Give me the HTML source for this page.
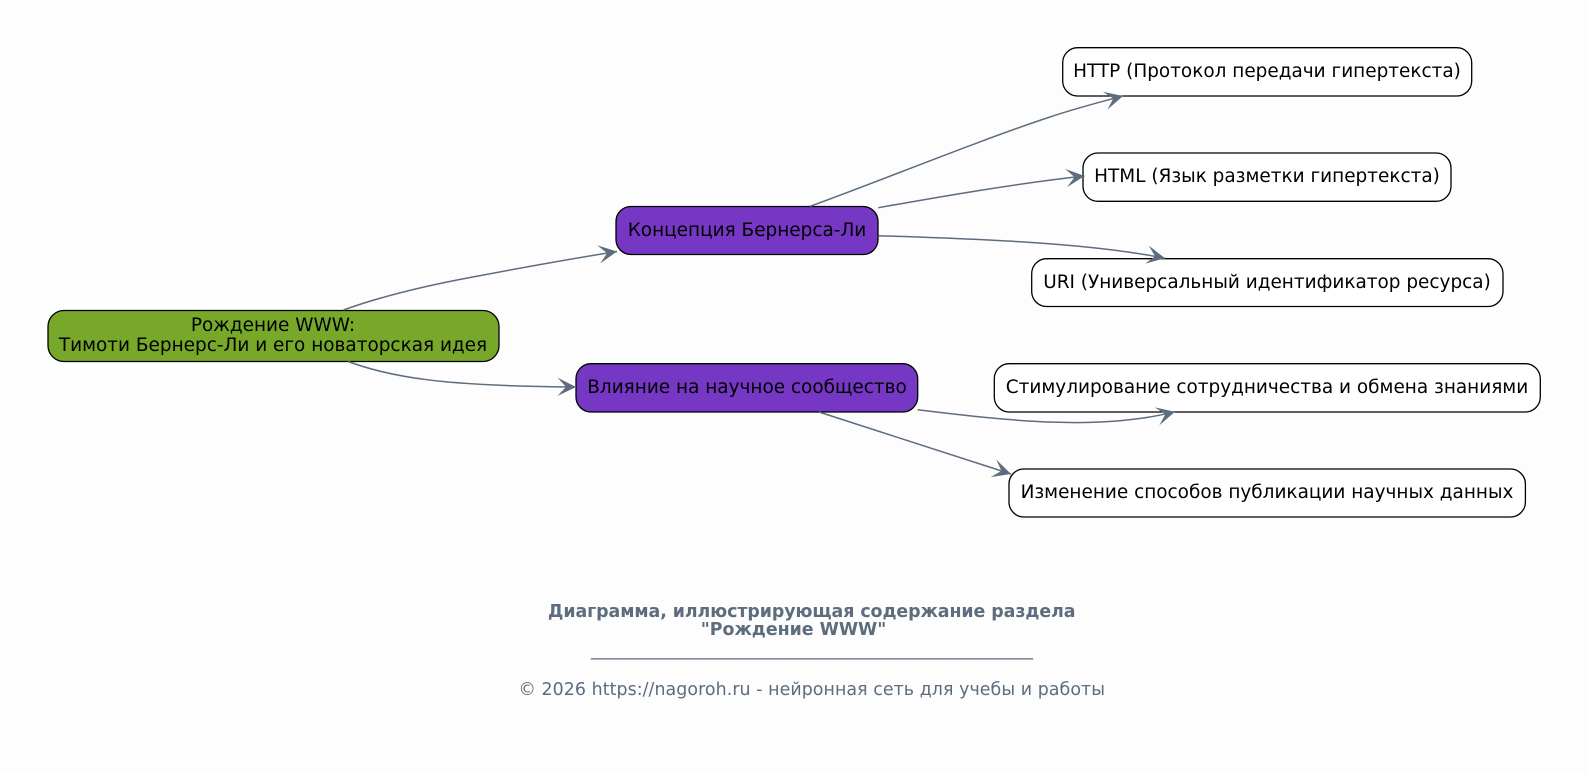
<!DOCTYPE html>
<html><head><meta charset="utf-8"><style>
html,body{margin:0;padding:0;background:#fdfdfd}
svg{display:block}
text{font-family:"DejaVu Sans",sans-serif;text-anchor:middle}
.n{font-size:18.45px;fill:#000}
.e{fill:none;stroke:#5d6d7e;stroke-width:1.5;marker-end:url(#a)}
.b{stroke:#000;stroke-width:1.3}
.f{fill:#5d6d7e}
</style></head><body>
<svg width="1588" height="773" viewBox="0 0 1588 773" xmlns="http://www.w3.org/2000/svg">
<defs><marker id="a" markerUnits="userSpaceOnUse" markerWidth="24" markerHeight="24" refX="20" refY="12" orient="auto" viewBox="0 0 24 24">
<path d="M20 12L1.500 2.800L10 12L1.500 21.200Z" fill="#5d6d7e"/></marker></defs>
<rect width="1588" height="773" fill="#fdfdfd"/>
<rect class="b" x="48" y="310.5" width="451" height="51" rx="16" fill="#77a829"/>
<rect class="b" x="616" y="206.5" width="262" height="48" rx="15" fill="#7637c4"/>
<rect class="b" x="576" y="363.7" width="341.7" height="48.3" rx="15" fill="#7637c4"/>
<rect class="b" x="1062.7" y="47.7" width="409" height="48.3" rx="15" fill="#fff"/>
<rect class="b" x="1083" y="153" width="368" height="48.3" rx="15" fill="#fff"/>
<rect class="b" x="1031.7" y="258.7" width="471.3" height="47.8" rx="15" fill="#fff"/>
<rect class="b" x="994.3" y="363.7" width="546" height="48.3" rx="15" fill="#fff"/>
<rect class="b" x="1009" y="469" width="516.4" height="48" rx="15" fill="#fff"/>
<path class="e" d="M343.5 310C385 295 430 285 470 277.500C520 268 570 259 617 251.500"/>
<path class="e" d="M348 361.500C393 378 445 386 576 387"/>
<path class="e" d="M810 206.300C880 181 980 140 1050 117C1075 108.500 1100 102 1123 96"/>
<path class="e" d="M878.300 207.700C950 195 1020 183 1084.500 176"/>
<path class="e" d="M878.300 235.700C980 239 1090 243 1165 258.300"/>
<path class="e" d="M917.700 409.700C1010 421 1100 431 1175 411.700"/>
<path class="e" d="M819 412L1011 474"/>
<text class="n" x="273" y="331">Рождение WWW:</text>
<text class="n" x="273" y="351">Тимоти Бернерс-Ли и его новаторская идея</text>
<text class="n" x="747" y="236">Концепция Бернерса-Ли</text>
<text class="n" x="747" y="393">Влияние на научное сообщество</text>
<text class="n" x="1267" y="77">HTTP (Протокол передачи гипертекста)</text>
<text class="n" x="1267" y="182">HTML (Язык разметки гипертекста)</text>
<text class="n" x="1267" y="288">URI (Универсальный идентификатор ресурса)</text>
<text class="n" x="1267" y="393">Стимулирование сотрудничества и обмена знаниями</text>
<text class="n" x="1267" y="498">Изменение способов публикации научных данных</text>
<text class="f" x="811.700" y="617" font-size="17.4" font-weight="bold" textLength="527.600" lengthAdjust="spacing">Диаграмма, иллюстрирующая содержание раздела</text>
<text class="f" x="793.500" y="635" font-size="17.4" font-weight="bold" textLength="185.500" lengthAdjust="spacing">"Рождение WWW"</text>
<text class="f" x="812" y="655.500" font-size="17.4" textLength="442" lengthAdjust="spacingAndGlyphs">__________________________________________________</text>
<text class="f" x="811.700" y="695" font-size="17.4" textLength="586.500" lengthAdjust="spacing">© 2026 https://nagoroh.ru - нейронная сеть для учебы и работы</text>
</svg>
</body></html>
